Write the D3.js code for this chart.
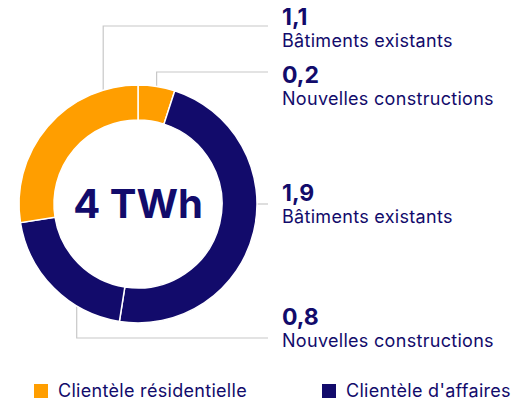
<!DOCTYPE html>
<html>
<head>
<meta charset="utf-8">
<style>
  body { margin: 0; background: #fff; }
  svg { display: block; font-family: Inter, "Open Sans", sans-serif; }
</style>
</head>
<body>
<script src="https://d3js.org/d3.v7.min.js"></script>
<script>
// slices clockwise from 12 o'clock
const values = [0.2, 1.9, 0.8, 1.1]
const groups = ['res', 'aff', 'aff', 'res']
const labels = ['Nouvelles constructions', 'Bâtiments existants', 'Nouvelles constructions', 'Bâtiments existants']
const valueText = ['0,2', '1,9', '0,8', '1,1']
const legendNames = ['Clientèle résidentielle', "Clientèle d'affaires"]
const total = '4 TWh'

const w = 513, h = 402
const cx = 138, cy = 204
const outerR = 119, innerR = 84
const navy = '#120b6b', orange = '#ff9e00', grey = '#c8c8c8'
const color = d3.scaleOrdinal().domain(['res', 'aff']).range([orange, navy])

// leader settings: anchor angle on the ring (deg), line y, label value baseline
const leaders = [
  { angle: 9, lineY: 72, textY: 83, dir: 'up' },
  { angle: 90, lineY: 204, textY: 201, dir: 'flat' },
  { angle: 211, lineY: 338, textY: 325, dir: 'down' },
  { angle: 343, lineY: 26, textY: 25, dir: 'up' }
]
const lineEndX = 268, labelX = 282

const svg = d3.select('body').append('svg')
  .attr('width', w)
  .attr('height', h)

const pie = d3.pie().sort(null).value(d => d)
const arc = d3.arc().innerRadius(innerR).outerRadius(outerR)

const g = svg.append('g').attr('transform', `translate(${cx},${cy})`)

// leader lines (drawn first, under the ring)
leaders.forEach((l, i) => {
  const a = l.angle * Math.PI / 180
  const x0 = outerR * Math.sin(a), y0 = -outerR * Math.cos(a)
  let pts
  if (l.dir === 'flat') {
    pts = [[x0, y0], [lineEndX - cx, y0]]
  } else {
    pts = [[x0, y0], [x0, l.lineY - cy], [lineEndX - cx, l.lineY - cy]]
  }
  g.append('path')
    .attr('d', d3.line()(pts))
    .attr('fill', 'none')
    .attr('stroke', grey)
    .attr('stroke-width', 1.2)
})

g.selectAll('path.slice')
  .data(pie(values))
  .enter()
  .append('path')
  .attr('class', 'slice')
  .attr('d', arc)
  .attr('fill', (d, i) => color(groups[i]))
  .attr('stroke', '#fff')
  .attr('stroke-width', 1.5)

g.append('text')
  .attr('x', 0)
  .attr('y', 14)
  .attr('text-anchor', 'middle')
  .attr('fill', navy)
  .attr('font-size', 40)
  .attr('font-weight', 700)
  .text(total)

// labels
leaders.forEach((l, i) => {
  svg.append('text')
    .attr('x', labelX)
    .attr('y', l.textY)
    .attr('fill', navy)
    .attr('font-size', 23)
    .attr('font-weight', 700)
    .text(valueText[i])
  svg.append('text')
    .attr('x', labelX)
    .attr('y', l.textY + 22)
    .attr('fill', navy)
    .attr('font-size', 18)
    .attr('letter-spacing', 0.3)
    .text(labels[i])
})

// legend
const legendX = [34, 322]
legendNames.forEach((name, i) => {
  svg.append('rect')
    .attr('x', legendX[i])
    .attr('y', 384)
    .attr('width', 14)
    .attr('height', 14)
    .attr('fill', color.range()[i])
  svg.append('text')
    .attr('x', legendX[i] + 24)
    .attr('y', 397)
    .attr('fill', navy)
    .attr('font-size', 18)
    .attr('letter-spacing', 0.3)
    .text(name)
})
</script>
</body>
</html>
